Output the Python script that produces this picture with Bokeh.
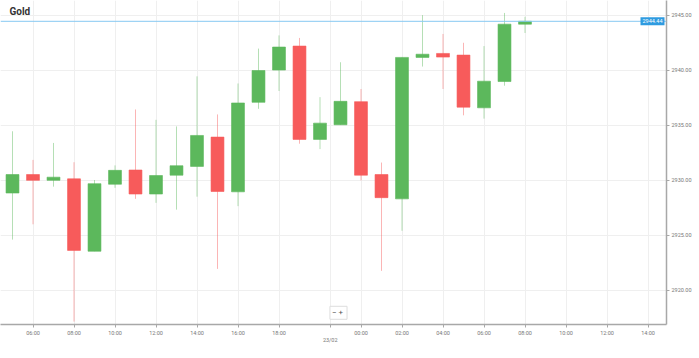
from bokeh.plotting import figure
from bokeh.models import Range1d, FixedTicker, NumeralTickFormatter, Label, Span, ColumnDataSource
from bokeh.embed import file_html
from bokeh.resources import INLINE

# hourly candles (index positions along the axis)
idx = list(range(26))
opens = [2928.84, 2930.52, 2929.99, 2930.13, 2923.55, 2929.64, 2930.93, 2928.75, 2930.46, 2931.26,
         2933.92, 2928.95, 2937.08, 2940.01, 2942.19, 2933.71, 2935.04, 2937.14, 2930.52, 2928.31,
         2941.16, 2941.52, 2941.37, 2936.58, 2938.97, 2944.18]
highs = [2934.45, 2931.85, 2933.39, 2931.64, 2930.02, 2931.35, 2936.43, 2935.49, 2934.89, 2939.44,
         2935.98, 2938.79, 2941.96, 2943.16, 2942.93, 2937.55, 2940.72, 2938.29, 2931.61, 2941.16,
         2945.00, 2943.29, 2942.49, 2942.19, 2945.20, 2944.85]
lows = [2924.61, 2926.00, 2929.42, 2917.16, 2923.55, 2929.31, 2928.31, 2927.95, 2927.33, 2928.51,
        2921.95, 2927.65, 2936.49, 2938.11, 2933.32, 2932.83, 2935.04, 2929.99, 2921.77, 2925.41,
        2940.33, 2938.29, 2935.90, 2935.60, 2938.59, 2943.38]
closes = [2930.52, 2929.99, 2930.28, 2923.63, 2929.69, 2930.90, 2928.75, 2930.43, 2931.32, 2934.07,
          2928.98, 2937.02, 2939.97, 2942.10, 2933.71, 2935.19, 2937.17, 2930.46, 2928.42, 2941.16,
          2941.45, 2941.19, 2936.64, 2939.00, 2944.18, 2944.44]
current_price = 2944.44

x_ticks = [1, 3, 5, 7, 9, 11, 13, 15.5, 17, 19, 21, 23, 25, 27, 29, 31]
x_tick_labels = ["06:00", "08:00", "10:00", "12:00", "14:00", "16:00", "18:00", "\n23/02",
                 "00:00", "02:00", "04:00", "06:00", "08:00", "10:00", "12:00", "14:00"]
y_ticks = [2920, 2925, 2930, 2935, 2940, 2945]

GREEN = "#5cb85c"
RED = "#f75b5b"

up = [c >= o for o, c in zip(opens, closes)]
src = ColumnDataSource(dict(
    x=idx,
    top=[max(o, c) for o, c in zip(opens, closes)],
    bottom=[min(o, c) for o, c in zip(opens, closes)],
    high=highs, low=lows,
    color=[GREEN if u else RED for u in up],
))

px_per_idx = 20.5
fw, fh = 666, 324
x0 = -12 / px_per_idx
x1 = x0 + fw / px_per_idx
y1 = 2945 + 15 / 11.28
y0 = 2945 - 317 / 11.28

p = figure(frame_width=fw, frame_height=fh,
           x_range=Range1d(x0, x1),
           y_range=Range1d(y0, y1),
           y_axis_location="right",
           output_backend="svg", toolbar_location=None,
           min_border_left=0, min_border_top=0, min_border_right=0, min_border_bottom=0)
p.outline_line_color = None
p.background_fill_color = "white"
p.border_fill_color = "white"

p.segment(x0="x", y0="low", x1="x", y1="high", line_color="color", line_alpha=0.45,
          line_width=1, source=src)
p.vbar(x="x", width=0.63, top="top", bottom="bottom", fill_color="color",
       line_color="color", line_alpha=0.6, source=src)

p.add_layout(Span(location=current_price, dimension="width", line_color="#86c9f2", line_width=1))

for ax in (p.xaxis[0], p.yaxis[0]):
    ax.axis_line_color = "#a8a8a8"
    ax.axis_line_width = 1.5
    ax.major_tick_line_color = "#a8a8a8"
    ax.major_tick_in = 0
    ax.major_tick_out = 3
    ax.minor_tick_line_color = None
    ax.major_label_text_color = "#777777"
    ax.major_label_text_font = "Roboto"
    ax.major_label_text_font_size = "5.5px"
    ax.major_label_standoff = 2

p.xaxis.ticker = FixedTicker(ticks=x_ticks)
p.xaxis.major_label_overrides = {t: l for t, l in zip(x_ticks, x_tick_labels)}
p.yaxis.ticker = FixedTicker(ticks=y_ticks)
p.yaxis.formatter = NumeralTickFormatter(format="0.00")

p.xgrid.ticker = FixedTicker(ticks=x_ticks)
p.ygrid.ticker = FixedTicker(ticks=y_ticks)
for g in (p.xgrid[0], p.ygrid[0]):
    g.grid_line_color = "#efefef"
    g.grid_line_width = 1

p.add_layout(Label(x=x0 + 9 / px_per_idx, y=2945 + 4 / 11.28, text="Gold",
                   text_font="Roboto", text_font_style="bold", text_font_size="10px",
                   text_color="#333333", text_baseline="middle"))

p.add_layout(Label(x=x1, y=current_price, x_offset=-2, text="2944.44",
                   text_font="Roboto", text_font_size="5.5px",
                   text_color="white", text_baseline="middle", text_align="right",
                   background_fill_color="#2f9be0", padding=2))

p.add_layout(Label(x=(338 - 12) / px_per_idx, y=2945 - 305 / 11.28, text="−  +",
                   text_font="Roboto", text_font_size="8px", text_color="#555555",
                   text_baseline="middle", text_align="center",
                   background_fill_color="white", border_line_color="#dddddd", padding=2))

open("out.html", "w").write(file_html(p, INLINE))
